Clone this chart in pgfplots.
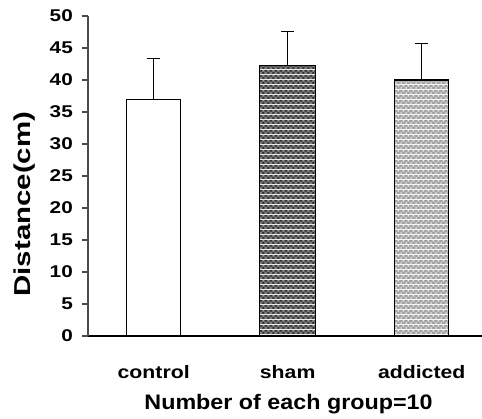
\documentclass[border=0pt]{standalone}
\usepackage{pgfplots}
\pgfplotsset{compat=1.18}
\usepackage{fontspec}
\setmainfont{Liberation Sans}[FakeStretch=1.18]
\newfontfamily\ylabfont{Liberation Sans}[FakeStretch=1.28]
\newfontfamily\xlabfont{Liberation Sans}[FakeStretch=1.11]
\newfontfamily\tickfam{Liberation Sans}[FakeStretch=1.22]
\newcommand{\tickfont}{\tickfam\fontsize{17}{18}\selectfont\bfseries}
\usetikzlibrary{patterns}
\pgfdeclarepatterninherentlycolored{shamdots}{\pgfqpoint{0pt}{0pt}}{\pgfqpoint{5pt}{5pt}}{\pgfqpoint{5pt}{5pt}}{%
  \pgfsetfillcolor{black!62}%
  \pgfpathrectangle{\pgfqpoint{0pt}{0pt}}{\pgfqpoint{5pt}{5pt}}\pgfusepath{fill}%
  \pgfsetfillcolor{white!85!black}%
  \pgfpathcircle{\pgfqpoint{1.25pt}{1.25pt}}{0.75pt}\pgfpathcircle{\pgfqpoint{3.75pt}{3.75pt}}{0.75pt}\pgfusepath{fill}%
  \pgfsetfillcolor{black}%
  \pgfpathcircle{\pgfqpoint{3.75pt}{1.25pt}}{0.9pt}\pgfpathcircle{\pgfqpoint{1.25pt}{3.75pt}}{0.9pt}\pgfusepath{fill}%
}
\pgfdeclarepatterninherentlycolored{adddots}{\pgfqpoint{0pt}{0pt}}{\pgfqpoint{5pt}{5pt}}{\pgfqpoint{5pt}{5pt}}{%
  \pgfsetfillcolor{black!32}%
  \pgfpathrectangle{\pgfqpoint{0pt}{0pt}}{\pgfqpoint{5pt}{5pt}}\pgfusepath{fill}%
  \pgfsetfillcolor{white}%
  \pgfpathcircle{\pgfqpoint{1.25pt}{1.25pt}}{0.9pt}\pgfpathcircle{\pgfqpoint{3.75pt}{3.75pt}}{0.9pt}\pgfusepath{fill}%
  \pgfsetfillcolor{black!60}%
  \pgfpathcircle{\pgfqpoint{3.75pt}{1.25pt}}{0.6pt}\pgfpathcircle{\pgfqpoint{1.25pt}{3.75pt}}{0.6pt}\pgfusepath{fill}%
}
\begin{document}
\begin{tikzpicture}
\useasboundingbox (-88pt,-83pt) rectangle (394pt,336pt);
\begin{axis}[
  at={(0pt,0pt)}, anchor=south west,
  scale only axis, width=394pt, height=320pt,
  xmin=-0.49, xmax=2.45, ymin=0, ymax=50,
  axis lines=left, axis line style={-},
  x axis line style={black, line width=1.2pt},
  y axis line style={black!70, line width=1.2pt},
  xtick={0,1,2}, xticklabels={control,sham,addicted},
  major x tick style={draw=none},
  ytick={0,5,10,15,20,25,30,35,40,45,50},
  yticklabels={0,5,10,15,20,25,30,35,40,45,50},
  tick align=outside, major tick length=6pt,
  y tick style={black!70, line width=1.2pt},
  /pgf/number format/assume math mode=true,
  yticklabel style={font=\tickfont, anchor=east, inner sep=0pt, xshift=-9pt},
  xticklabel style={font=\fontsize{18}{20}\selectfont\bfseries, anchor=base, yshift=-37pt},
  xlabel={\xlabfont\fontsize{21}{23}\selectfont\bfseries Number of each group=10},
  xlabel style={at={(axis description cs:0.509,-0.231)}, anchor=base},
  ylabel={\ylabfont\fontsize{23}{25}\selectfont\bfseries Distance(cm)},
  ylabel style={at={(axis description cs:-0.162,0.412)}, anchor=center},
  clip=false,
]
\addplot[ybar, bar width=54pt, bar shift=0pt, draw=black, line width=1.2pt, fill=white,
  error bars/.cd, y dir=plus, y explicit,
  error bar style={line width=1.2pt, black},
  error mark options={rotate=90, mark size=6.5pt, line width=1.2pt, black}]
  coordinates {(0,37.0) +- (0,6.4)};
\addplot[ybar, bar width=56pt, bar shift=0pt, draw=black, line width=1.2pt, pattern=shamdots,
  error bars/.cd, y dir=plus, y explicit,
  error bar style={line width=1.2pt, black},
  error mark options={rotate=90, mark size=6.5pt, line width=1.2pt, black}]
  coordinates {(1,42.3) +- (0,5.25)};
\addplot[ybar, bar width=54pt, bar shift=0pt, draw=black, line width=1.2pt, pattern=adddots,
  error bars/.cd, y dir=plus, y explicit,
  error bar style={line width=1.2pt, black},
  error mark options={rotate=90, mark size=6.5pt, line width=1.2pt, black}]
  coordinates {(2,40.0) +- (0,5.7)};
\end{axis}
\end{tikzpicture}
\end{document}
